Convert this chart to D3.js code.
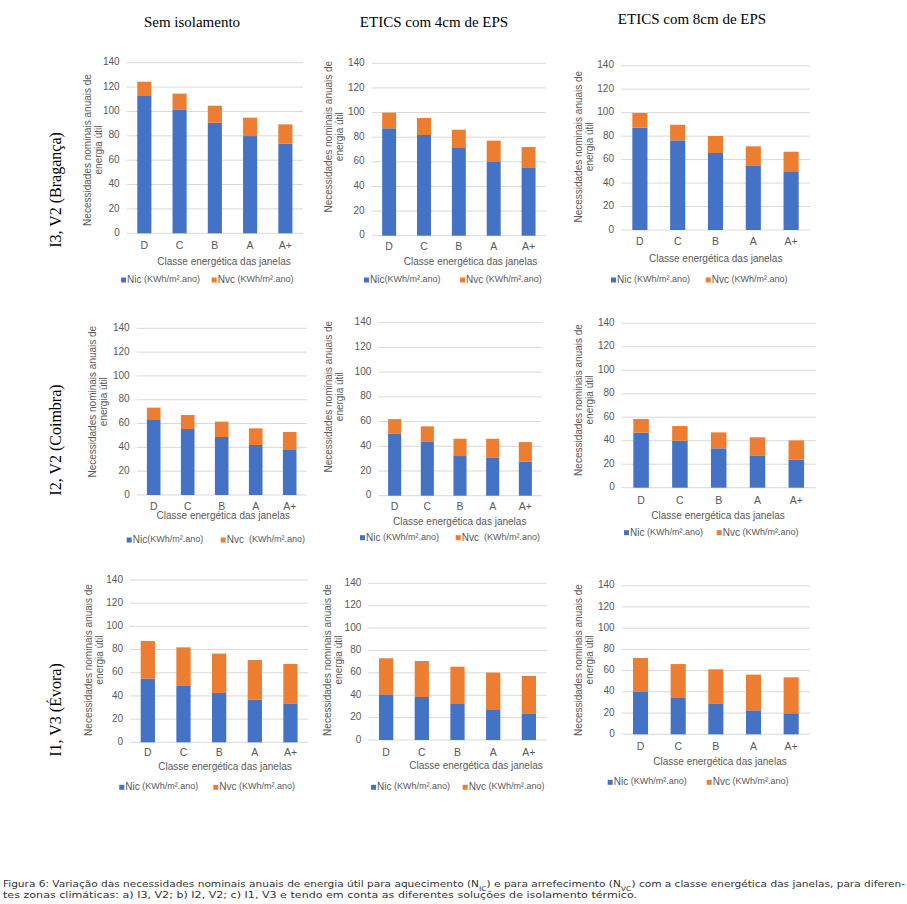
<!DOCTYPE html>
<meta charset="utf-8">
<head>
    <script type="text/javascript" src="https://cdnjs.cloudflare.com/ajax/libs/d3/7.8.5/d3.min.js"></script>
    <style>
        body { margin: 0; background: #fff; }
        text { font-family: "Liberation Sans", Arial, sans-serif; fill: #595959; }
        .serif { font-family: "Liberation Serif", "Times New Roman", serif; fill: #000; }
        .caption { font-family: "Liberation Sans Narrow", "DejaVu Sans Condensed", sans-serif; fill: #333; }
    </style>
    <title></title>
</head>
<body>
<div id="chart"></div>
<script>
    // window classes (x axis)
    var categories = ["D", "C", "B", "A", "A+"];
    var columnTitles = ["Sem isolamento", "ETICS com 4cm de EPS", "ETICS com 8cm de EPS"];
    var rowTitles = ["I3, V2 (Bragança)", "I2, V2 (Coimbra)", "I1, V3 (Évora)"];
    var yTicks = [0, 20, 40, 60, 80, 100, 120, 140];

    // Bragança - I3, V2
    var nicBragancaSem = [112.7, 101.7, 90.8, 79.8, 73.5];
    var nvcBragancaSem = [11.7, 12.9, 13.9, 15.1, 15.9];
    var nicBraganca4 = [87.2, 81.8, 71.2, 60.4, 55.0];
    var nvcBraganca4 = [12.7, 13.8, 14.9, 16.8, 17.0];
    var nicBraganca8 = [87.2, 76.4, 65.6, 55.1, 49.4];
    var nvcBraganca8 = [12.5, 13.3, 14.5, 16.2, 17.3];

    // Coimbra - I2, V2
    var nicCoimbraSem = [63.0, 55.4, 48.7, 42.0, 38.4];
    var nvcCoimbraSem = [10.4, 11.8, 12.9, 14.0, 14.5];
    var nicCoimbra4 = [50.4, 44.0, 32.1, 31.0, 27.5];
    var nvcCoimbra4 = [11.6, 12.1, 14.0, 15.1, 15.9];
    var nicCoimbra8 = [46.9, 40.0, 33.5, 27.5, 23.9];
    var nvcCoimbra8 = [11.6, 12.5, 13.6, 15.4, 16.4];

    // Evora - I1, V3
    var nicEvoraSem = [54.9, 48.6, 42.5, 36.8, 33.6];
    var nvcEvoraSem = [32.5, 33.3, 34.0, 34.2, 34.0];
    var nicEvora4 = [40.8, 38.4, 32.8, 26.8, 23.8];
    var nvcEvora4 = [32.2, 32.2, 32.7, 33.4, 33.4];
    var nicEvora8 = [39.9, 34.2, 28.6, 22.6, 19.8];
    var nvcEvora8 = [32.0, 32.0, 32.6, 33.6, 33.9];

    var blue = "#4472C4", orange = "#ED7D31";

    // where each small chart sits on the page (the panels were pasted by hand, so they differ a bit)
    var panels = [
        {nic: nicBragancaSem, nvc: nvcBragancaSem, x0: 126.7, x1: 303, yTop: 62.7, yBot: 233.3, tickY: 246, titleX: 224, titleY: 262, legY: 280, legNic: 121, legNvc: 211.7, ytX: 93.5, ytY: 150, sepNic: " ", sepNvc: " "},
        {nic: nicBraganca4, nvc: nvcBraganca4, x0: 371.7, x1: 546, yTop: 63.3, yBot: 235.7, tickY: 247.7, titleX: 470.5, titleY: 262.3, legY: 280, legNic: 364, legNvc: 460, ytX: 334.5, ytY: 136.7, sepNic: "", sepNvc: " "},
        {nic: nicBraganca8, nvc: nvcBraganca8, x0: 621, x1: 810, yTop: 65.7, yBot: 230, tickY: 242, titleX: 715.7, titleY: 259, legY: 280, legNic: 611, legNvc: 705.7, ytX: 584.5, ytY: 146.7, sepNic: " ", sepNvc: " "},
        {nic: nicCoimbraSem, nvc: nvcCoimbraSem, x0: 136.7, x1: 306.7, yTop: 328.3, yBot: 495, tickY: 507.3, titleX: 223.3, titleY: 516.7, legY: 540, legNic: 126.7, legNvc: 220.7, ytX: 98.7, ytY: 401.7, sepNic: "", sepNvc: "  "},
        {nic: nicCoimbra4, nvc: nvcCoimbra4, x0: 378.3, x1: 541.7, yTop: 322.7, yBot: 495.7, tickY: 507.7, titleX: 459.7, titleY: 522.7, legY: 537.7, legNic: 360, legNvc: 455.7, ytX: 334.5, ytY: 396.7, sepNic: " ", sepNvc: "  "},
        {nic: nicCoimbra8, nvc: nvcCoimbra8, x0: 621.7, x1: 815.7, yTop: 323.3, yBot: 487.7, tickY: 501.7, titleX: 718, titleY: 516.7, legY: 532.7, legNic: 624, legNvc: 716.7, ytX: 584.5, ytY: 400, sepNic: " ", sepNvc: " "},
        {nic: nicEvoraSem, nvc: nvcEvoraSem, x0: 130, x1: 308.3, yTop: 580, yBot: 742.3, tickY: 753.3, titleX: 225, titleY: 767.3, legY: 787.3, legNic: 119.3, legNvc: 213.3, ytX: 94.2, ytY: 660, sepNic: " ", sepNvc: " "},
        {nic: nicEvora4, nvc: nvcEvora4, x0: 368.3, x1: 546.7, yTop: 583.3, yBot: 740, tickY: 753.3, titleX: 476, titleY: 766, legY: 787.3, legNic: 371, legNvc: 462.7, ytX: 333, ytY: 660, sepNic: " ", sepNvc: " "},
        {nic: nicEvora8, nvc: nvcEvora8, x0: 621.7, x1: 810, yTop: 585.7, yBot: 734.3, tickY: 747.3, titleX: 720, titleY: 762.7, legY: 782.3, legNic: 607.7, legNvc: 706.7, ytX: 584.5, ytY: 660, sepNic: " ", sepNvc: " "}
    ];

    var svg = d3.select("#chart").append("svg")
        .attr("width", 907)
        .attr("height", 904);

    function drawPanel(p) {
        var g = svg.append("g");
        var x = d3.scaleBand().domain(categories).range([p.x0, p.x1]).paddingInner(0.6).paddingOuter(0.3);
        var y = d3.scaleLinear().domain([0, 140]).range([p.yBot, p.yTop]);

        // gridlines + labels
        g.selectAll(".grid").data(yTicks).enter().append("line")
            .attr("x1", p.x0).attr("x2", p.x1)
            .attr("y1", d => y(d)).attr("y2", d => y(d))
            .attr("stroke", "#d9d9d9").attr("stroke-width", 1);
        g.selectAll(".ytick").data(yTicks).enter().append("text")
            .attr("x", p.x0 - 7).attr("y", d => y(d))
            .attr("text-anchor", "end").attr("dominant-baseline", "middle")
            .style("font-size", "10px")
            .text(d => d);

        var rows = categories.map((c, i) => ({cat: c, nic: p.nic[i], nvc: p.nvc[i]}));
        var stacked = d3.stack().keys(["nic", "nvc"])(rows);
        var colors = {nic: blue, nvc: orange};

        g.selectAll(".serie").data(stacked).enter().append("g")
            .attr("fill", d => colors[d.key])
            .selectAll("rect").data(d => d).enter().append("rect")
            .attr("x", d => x(d.data.cat))
            .attr("width", x.bandwidth())
            .attr("y", d => y(d[1]))
            .attr("height", d => y(d[0]) - y(d[1]));

        g.selectAll(".xtick").data(categories).enter().append("text")
            .attr("x", d => x(d) + x.bandwidth() / 2).attr("y", p.tickY)
            .attr("text-anchor", "middle").attr("dominant-baseline", "middle")
            .style("font-size", "10.5px")
            .text(d => d);

        g.append("text")
            .attr("x", p.titleX).attr("y", p.titleY)
            .attr("text-anchor", "middle").attr("dominant-baseline", "middle")
            .style("font-size", "10px")
            .text("Classe energética das janelas");

        // y axis title, 2 lines
        var yt = g.append("text")
            .attr("transform", "translate(" + p.ytX + "," + p.ytY + ") rotate(-90)")
            .attr("text-anchor", "middle").attr("dominant-baseline", "middle")
            .style("font-size", "10px");
        yt.append("tspan").attr("x", 0).attr("y", -5.5).text("Necessidades nominais anuais de");
        yt.append("tspan").attr("x", 0).attr("y", 5.5).text("energia útil");

        // legend
        [{x: p.legNic, c: blue, n: "Nic", s: p.sepNic}, {x: p.legNvc, c: orange, n: "Nvc", s: p.sepNvc}].forEach(function (l) {
            g.append("rect").attr("x", l.x).attr("y", p.legY - 2.5).attr("width", 5).attr("height", 5).attr("fill", l.c);
            var t = g.append("text").attr("x", l.x + 6).attr("y", p.legY)
                .attr("dominant-baseline", "middle").style("font-size", "10px")
                .style("white-space", "pre");
            t.append("tspan").text(l.n);
            t.append("tspan").style("font-size", "9px").text(l.s + "(KWh/m².ano)");
        });
    }

    panels.forEach(drawPanel);

    // column headers
    var colX = [192, 434, 692];
    var colY = [26.5, 26.5, 23.5];
    svg.selectAll(".coltitle").data(columnTitles).enter().append("text")
        .attr("class", "serif")
        .attr("x", (d, i) => colX[i]).attr("y", (d, i) => colY[i])
        .attr("text-anchor", "middle")
        .style("font-size", "15px")
        .text(d => d);

    // row headers
    var rowY = [190, 440, 710];
    svg.selectAll(".rowtitle").data(rowTitles).enter().append("text")
        .attr("class", "serif")
        .attr("transform", (d, i) => "translate(57," + rowY[i] + ") rotate(-90)")
        .attr("text-anchor", "middle").attr("dominant-baseline", "middle")
        .style("font-size", "16px")
        .text(d => d);

    // caption
    var cap1 = svg.append("text").attr("class", "caption")
        .attr("x", 3).attr("y", 887).style("font-size", "9px")
        .attr("textLength", 902).attr("lengthAdjust", "spacingAndGlyphs");
    cap1.append("tspan").text("Figura 6: Variação das necessidades nominais anuais de energia útil para aquecimento (N");
    cap1.append("tspan").attr("baseline-shift", "sub").style("font-size", "6.5px").text("IC");
    cap1.append("tspan").text(") e para arrefecimento (N");
    cap1.append("tspan").attr("baseline-shift", "sub").style("font-size", "6.5px").text("VC");
    cap1.append("tspan").text(") com a classe energética das janelas, para diferen-");

    svg.append("text").attr("class", "caption")
        .attr("x", 3).attr("y", 898).style("font-size", "9px")
        .attr("textLength", 634).attr("lengthAdjust", "spacingAndGlyphs")
        .text("tes zonas climáticas: a) I3, V2; b) I2, V2; c) I1, V3 e tendo em conta as diferentes soluções de isolamento térmico.");
</script>
</body>
</html>
